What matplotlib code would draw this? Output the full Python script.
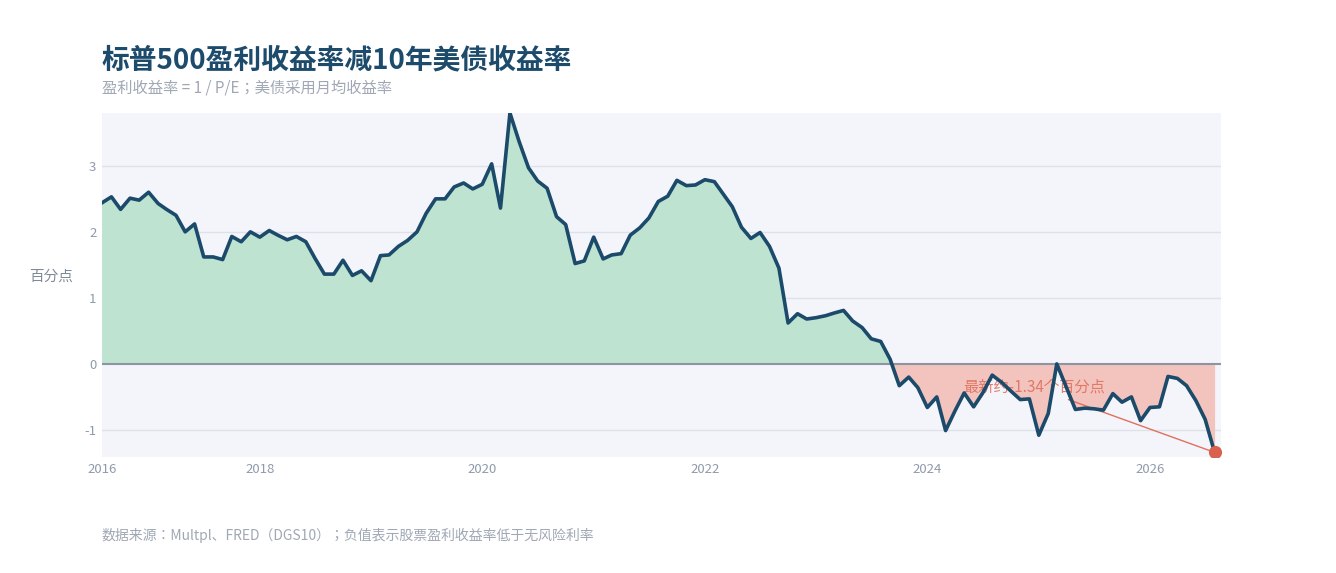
import matplotlib
matplotlib.use("Agg")
import matplotlib.pyplot as plt
import matplotlib.dates as mdates
import numpy as np
import pandas as pd

plt.rcParams['font.family'] = ['Noto Sans CJK JP', 'DejaVu Sans']

# ---- data ----
start_month = "2016-08-01"
spread = [
    2.44, 2.53, 2.34, 2.51, 2.48, 2.60, 2.43, 2.34, 2.25, 2.00,
    2.12, 1.62, 1.62, 1.58, 1.93, 1.85, 2.00, 1.92, 2.02, 1.95,
    1.88, 1.93, 1.85, 1.60, 1.36, 1.36, 1.57, 1.34, 1.41, 1.26,
    1.64, 1.65, 1.78, 1.87, 2.00, 2.28, 2.50, 2.50, 2.68, 2.74,
    2.65, 2.72, 3.03, 2.36, 3.80, 3.37, 2.97, 2.77, 2.66, 2.23,
    2.11, 1.52, 1.56, 1.92, 1.59, 1.65, 1.67, 1.95, 2.06, 2.21,
    2.46, 2.54, 2.78, 2.70, 2.71, 2.79, 2.76, 2.58, 2.38, 2.07,
    1.90, 1.99, 1.78, 1.45, 0.62, 0.76, 0.68, 0.70, 0.73, 0.77,
    0.81, 0.65, 0.55, 0.38, 0.34, 0.07, -0.33, -0.20, -0.36, -0.66,
    -0.50, -1.01, -0.71, -0.44, -0.65, -0.44, -0.17, -0.28, -0.41, -0.54,
    -0.53, -1.08, -0.75, 0.00, -0.35, -0.69, -0.67, -0.68, -0.70, -0.45,
    -0.58, -0.50, -0.86, -0.66, -0.65, -0.19, -0.22, -0.33, -0.56, -0.84,
    -1.34,
]
dates = pd.date_range(start_month, periods=len(spread), freq="MS")
y_ticks = [-1, 0, 1, 2, 3]
x_tick_dates = ["2016-08-01", "2018-01-01", "2020-01-01", "2022-01-01", "2024-01-01", "2026-01-01"]
x_tick_labels = ["2016", "2018", "2020", "2022", "2024", "2026"]

title = "标普500盈利收益率减10年美债收益率"
subtitle = "盈利收益率 = 1 / P/E；美债采用月均收益率"
footer = "数据来源：Multpl、FRED（DGS10）；负值表示股票盈利收益率低于无风险利率"
ylabel = "百分点"
latest_label = "最新约-1.34个百分点"

# ---- figure ----
W, H = 1336, 573
fig = plt.figure(figsize=(W / 100, H / 100), dpi=100)
fig.patch.set_facecolor("white")
L, R, T, B = 102, 1221, 113, 457
ax = fig.add_axes([L / W, 1 - B / H, (R - L) / W, (B - T) / H])
ax.set_facecolor("#f4f5fa")

x = mdates.date2num(dates)
y = np.array(spread)

line_c = "#1b4a6b"
ax.fill_between(x, y, 0, where=y >= 0, interpolate=True, color="#bfe3d1", linewidth=0, zorder=2)
ax.fill_between(x, y, 0, where=y <= 0, interpolate=True, color="#f2c4bd", linewidth=0, zorder=2)
ax.plot(x, y, color=line_c, linewidth=2.6, solid_joinstyle="round", zorder=4)
ax.axhline(0, color="#8d95a3", linewidth=1.5, zorder=3)

for v in y_ticks:
    if v != 0:
        ax.axhline(v, color="#dde2ea", linewidth=1, zorder=1)

red = "#d9604f"
ax.scatter([x[-1]], [y[-1]], s=90, color=red, zorder=6, linewidths=0)
ax.annotate(latest_label, xy=(x[-1], y[-1]), xytext=(-180 * 0.72, 65 * 0.72),
            textcoords="offset points", ha="center", va="center",
            fontsize=11, color="#e0705f", alpha=0.9, zorder=3,
            arrowprops=dict(arrowstyle="-", color="#e0705f", lw=1, shrinkA=2, shrinkB=0))

# axes ranges
ax.set_ylim(-1.41, 3.80)
x_left = mdates.date2num(pd.Timestamp(start_month))
x_right = mdates.date2num(dates[-1]) + 21
ax.set_xlim(x_left, x_right)

ax.set_yticks(y_ticks)
ax.set_yticklabels([str(v) for v in y_ticks])
ax.set_xticks([mdates.date2num(pd.Timestamp(d)) for d in x_tick_dates])
ax.set_xticklabels(x_tick_labels)
ax.tick_params(axis="both", length=0, labelsize=9.5, labelcolor="#8f9aab")
ax.tick_params(axis="x", pad=4.5)
ax.tick_params(axis="y", pad=4)
for s in ax.spines.values():
    s.set_visible(False)

# texts
fig.text(102 / W, 1 - 60 / H, title, fontsize=20, fontweight="bold", color="#1d4b6c", va="center", ha="left")
fig.text(102 / W, 1 - 88 / H, subtitle, fontsize=11, color="#a0a8b5", va="center", ha="left")
fig.text(102 / W, 1 - 535 / H, footer, fontsize=10, color="#a0a8b5", va="center", ha="left")
fig.text(51 / W, 1 - 277 / H, ylabel, fontsize=10.5, color="#7f8a99", va="center", ha="center")

fig.savefig("out.png", dpi=100, facecolor="white")
